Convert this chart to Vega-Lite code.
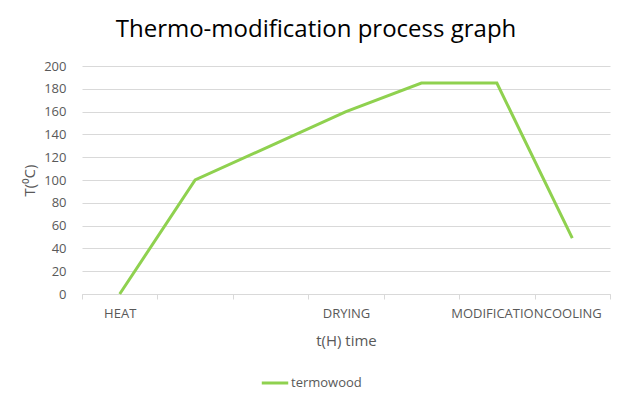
{
  "$schema": "https://vega.github.io/schema/vega-lite/v6.json",
  "width": 528,
  "height": 228,
  "autosize": {"type": "none"},
  "padding": {"left": 82, "top": 66, "right": 14, "bottom": 108},
  "background": "white",
  "title": {
    "text": "Thermo-modification process graph",
    "font": "Open Sans",
    "fontSize": 24,
    "fontWeight": "normal",
    "color": "#000000",
    "anchor": "middle",
    "dx": -30,
    "offset": 18
  },
  "data": {
    "values": [
      {"t": "HEAT", "T": 0, "series": "termowood"},
      {"t": " ", "T": 100, "series": "termowood"},
      {"t": "  ", "T": 130, "series": "termowood"},
      {"t": "DRYING", "T": 160, "series": "termowood"},
      {"t": "   ", "T": 185, "series": "termowood"},
      {"t": "MODIFICATION", "T": 185, "series": "termowood"},
      {"t": "COOLING", "T": 49, "series": "termowood"}
    ]
  },
  "mark": {"type": "line", "strokeWidth": 3},
  "encoding": {
    "x": {
      "field": "t",
      "type": "ordinal",
      "sort": null,
      "bandPosition": 0.5,
      "scale": {"type": "band", "paddingInner": 0, "paddingOuter": 0},
      "axis": {
        "title": "t(H) time",
        "labelAngle": 0,
        "tickBand": "extent",
        "domainColor": "#d9d9d9",
        "tickColor": "#d9d9d9",
        "tickSize": 5,
        "grid": false,
        "labelFont": "Open Sans",
        "labelFontSize": 13,
        "labelColor": "#595959",
        "labelPadding": 8,
        "titleFont": "Open Sans",
        "titleFontSize": 15,
        "titleFontWeight": "normal",
        "titleColor": "#595959",
        "titlePadding": 13
      }
    },
    "y": {
      "field": "T",
      "type": "quantitative",
      "scale": {"domain": [0, 200], "nice": false},
      "axis": {
        "title": "T(⁰C)",
        "values": [0, 20, 40, 60, 80, 100, 120, 140, 160, 180, 200],
        "domain": false,
        "ticks": false,
        "grid": true,
        "gridColor": "#d9d9d9",
        "labelFont": "Open Sans",
        "labelFontSize": 13,
        "labelColor": "#595959",
        "labelPadding": 16,
        "titleFont": "Open Sans",
        "titleFontSize": 15,
        "titleFontWeight": "normal",
        "titleColor": "#595959",
        "titlePadding": 6
      }
    },
    "color": {
      "field": "series",
      "type": "nominal",
      "scale": {"range": ["#8fd14f"]},
      "legend": {
        "title": null,
        "orient": "none",
        "legendX": 178,
        "legendY": 302,
        "symbolType": "stroke",
        "symbolSize": 700,
        "symbolStrokeWidth": 3,
        "labelFont": "Open Sans",
        "labelFontSize": 13,
        "labelColor": "#595959",
        "labelOffset": 1
      }
    }
  },
  "config": {"view": {"stroke": null}}
}
